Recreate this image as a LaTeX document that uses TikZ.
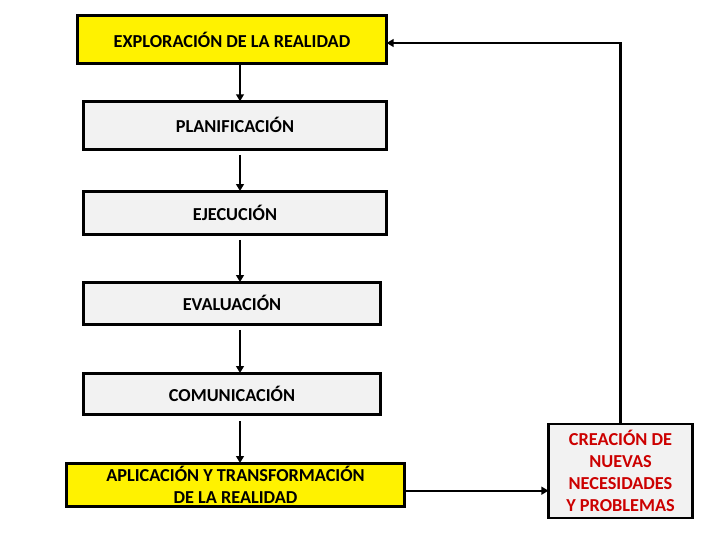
\documentclass[tikz,border=0pt]{standalone}
\usepackage{fontspec}
\setmainfont{Carlito}
\usetikzlibrary{positioning}
\usetikzlibrary{arrows.meta}

\definecolor{cajagris}{RGB}{242,242,242}
\definecolor{rojotexto}{RGB}{204,0,0}

\begin{document}
\begin{tikzpicture}[
    caja/.style={draw=black, line width=2pt, fill=cajagris, inner sep=2pt, outer sep=0pt,
                 font=\bfseries\fontsize{13}{15.6}\selectfont, align=center},
    amarilla/.style={caja, fill=yellow},
    flecha/.style={line width=1.6pt, -{Triangle[length=5pt,width=5.5pt]}}
  ]
    \useasboundingbox (0,0) rectangle (18,-13.5);

    % columna de fases
    \node [amarilla, minimum width=7.73cm, minimum height=1.2cm] (explo) at (5.8,-0.9875) {EXPLORACIÓN DE LA REALIDAD};
    \node [caja, minimum width=7.58cm, minimum height=1.2cm, below=0.945cm of explo, xshift=0.075cm] (plan) {PLANIFICACIÓN};
    \node [caja, minimum width=7.58cm, minimum height=1.08cm, below=1.045cm of plan] (ejec) {EJECUCIÓN};
    \node [caja, minimum width=7.43cm, minimum height=1.055cm, below=1.195cm of ejec, xshift=-0.075cm] (eval) {EVALUACIÓN};
    \node [caja, minimum width=7.43cm, minimum height=1.03cm, below=1.22cm of eval] (comu) {COMUNICACIÓN};
    \node [amarilla, minimum width=8.455cm, minimum height=1.08cm, below=1.22cm of comu, xshift=0.0875cm] (apli) {APLICACIÓN Y TRANSFORMACIÓN\\DE LA REALIDAD};

    \node [caja, text=rojotexto, minimum width=3.6cm, minimum height=2.35cm] (crea) at (15.5125,-11.775) {CREACIÓN DE\\NUEVAS\\NECESIDADES\\Y PROBLEMAS};

    \coordinate (eje) at (6,0);

    \draw [flecha] (explo.south -| eje) -- (plan.north -| eje);
    \draw [flecha, shorten <=4pt] (plan.south -| eje) -- (ejec.north -| eje);
    \draw [flecha, shorten <=4pt] (ejec.south -| eje) -- (eval.north -| eje);
    \draw [flecha, shorten <=4pt] (eval.south -| eje) -- (comu.north -| eje);
    \draw [flecha, shorten <=5pt] (comu.south -| eje) -- (apli.north -| eje);

    \draw [flecha] ([yshift=-0.15cm]apli.east) -- ([yshift=-0.15cm]apli.east -| crea.west);
    \draw [flecha] (crea.north) |- ([yshift=-0.0875cm]explo.east);

\end{tikzpicture}
\end{document}
